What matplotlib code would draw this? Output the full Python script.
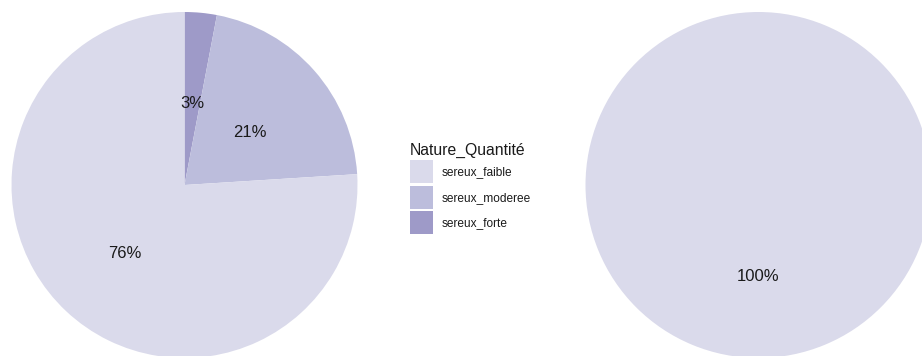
import matplotlib.pyplot as plt
import matplotlib as mpl
from matplotlib.patches import Patch

mpl.rcParams["font.family"] = ["Liberation Sans", "DejaVu Sans"]

# Share of each category, listed clockwise from 12 o'clock
categories = ["sereux_forte", "sereux_moderee", "sereux_faible"]
left_values = [3, 21, 76]
right_values = [0, 0, 100]

legend_order = ["sereux_faible", "sereux_moderee", "sereux_forte"]
colors = {
    "sereux_faible": "#dadaeb",
    "sereux_moderee": "#bcbddc",
    "sereux_forte": "#9e9ac8",
}

W, H = 922, 356
fig = plt.figure(figsize=(W / 100, H / 100), dpi=100)
ax = fig.add_axes([0, 0, 1, 1])

R = 173
PCT_DIST = 87 / R


def draw_pie(values, cx, cy):
    keep = [(c, v) for c, v in zip(categories, values) if v > 0]
    _, _, pct_texts = ax.pie(
        [v for _, v in keep], colors=[colors[c] for c, _ in keep],
        startangle=90, counterclock=False, center=(cx, cy), radius=R,
        autopct="%1.0f%%", pctdistance=PCT_DIST,
        wedgeprops={"linewidth": 0},
        textprops={"fontsize": 12, "color": "#1a1a1a"})
    # nudge the percentage labels slightly downward
    for t in pct_texts:
        x, y = t.get_position()
        t.set_position((x, y - 5))


draw_pie(left_values, 184.5, H - 185)
draw_pie(right_values, 758.5, H - 185)

ax.set_xlim(0, W)
ax.set_ylim(0, H)
ax.set_aspect("equal")
ax.axis("off")

handles = [Patch(facecolor=colors[c], edgecolor="none", label=c) for c in legend_order]
leg = fig.legend(handles=handles, title="Nature_Quantité", loc="upper left",
                 bbox_to_anchor=(400 / W, 1 - 133 / H), frameon=False,
                 fontsize=8.6, title_fontsize=11.3, alignment="left",
                 handlelength=1.93, handleheight=2.59, handletextpad=0.75,
                 labelspacing=0.2, borderpad=0.3)
for t in leg.get_texts():
    t.set_color("#1a1a1a")
leg.get_title().set_color("#1a1a1a")

fig.savefig("out.png", dpi=100, facecolor="white")
